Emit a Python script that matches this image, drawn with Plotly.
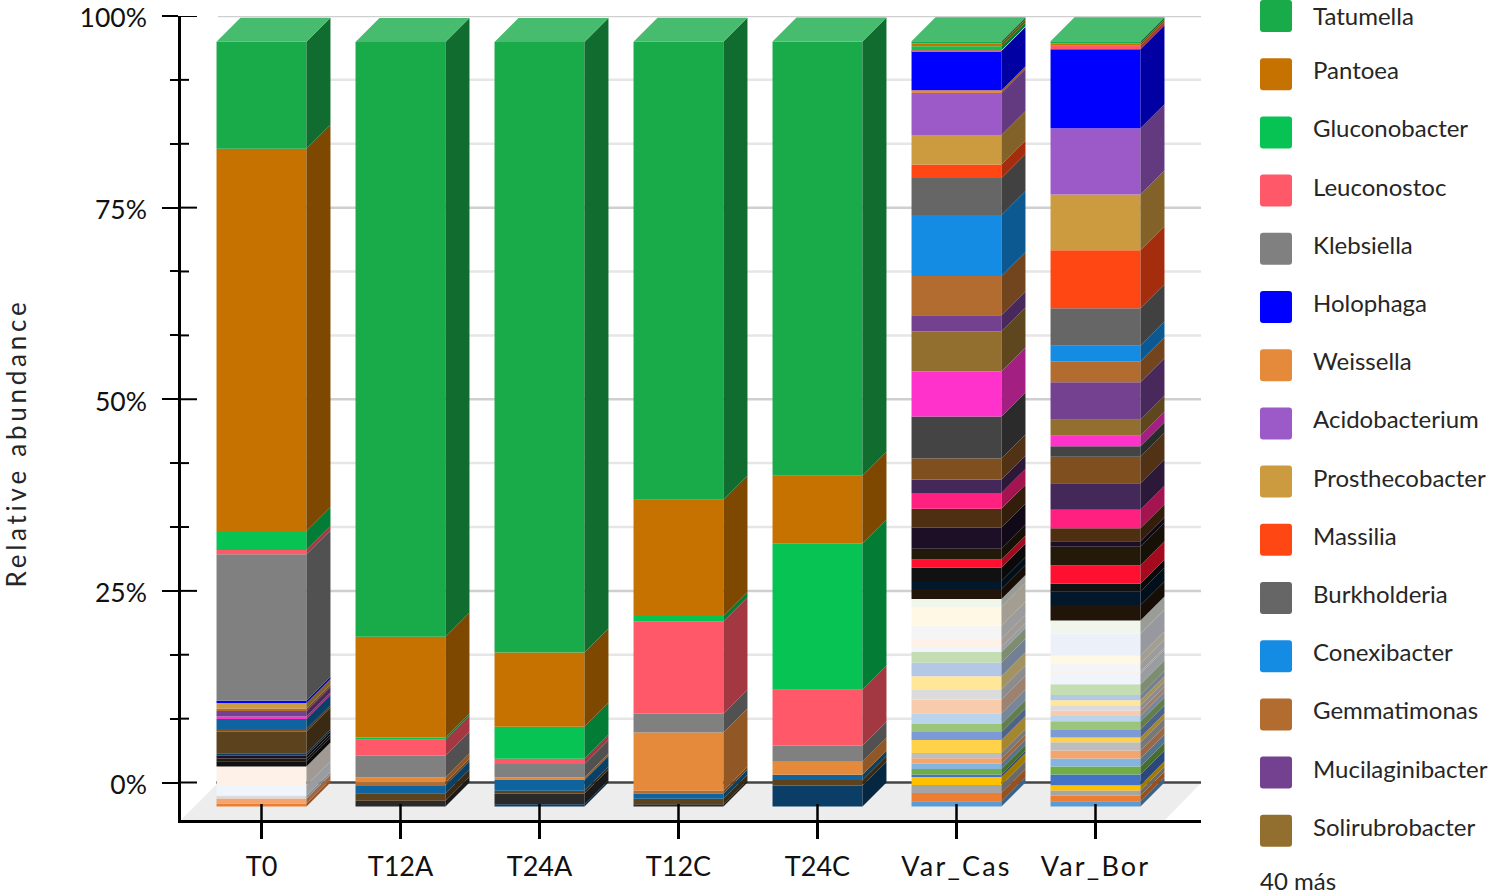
#! /usr/bin/env python3
import plotly.graph_objects as go

samples = ['T0', 'T12A', 'T24A', 'T12C', 'T24C', 'Var_Cas', 'Var_Bor']

# stack order, bottom to top: 40 unnamed genera ("40 mas") then the 15 named ones
series_colors = [
    '#5B9BD5', '#ED7D31', '#A5A5A5', '#FFC000', '#4472C4', '#70AD47',
    '#84B5E0', '#F4A46E', '#BDBDBD', '#FFD24A', '#7C9BD6', '#9BC57A',
    '#BAD4EC', '#F8CBAD', '#DBDBDB', '#FFE699', '#B4C7E7', '#C5DDB3',
    '#F0F4FB', '#FDF1E8', '#F5F5F5', '#FFF8E4', '#ECF0F9', '#F1F6EC',
    '#21150A', '#02182A', '#111111', '#FF1030', '#241A0A', '#1C0F26',
    '#4F2F12', '#FF2080', '#45285A', '#0A3E66', '#2A2A2A', '#5C431E',
    '#7F4F20', '#444444', '#0F649F', '#FF33CC',
    '#936F2F', '#734190', '#B36C2F', '#148CE4', '#666666', '#FF4714',
    '#CC9A3F', '#9C5AC8', '#E48A3A', '#0000FF', '#808080', '#FF5868',
    '#06C353', '#C67200', '#19AA4A',
]

# one value per entry of series_colors
T0 = [0, .39, 0, 0, 0, 0, 0, .65, 0, 0, 0, 0,
      0, 0, .35, 0, 0, 0, 1.40, 2.44, 0, 0, 0, 0,
      0, 0, .70, 0, .35, .35, 0, 0, 0, .35, 0, 2.79,
      .35, 0, 1.31, .35,
      0, .70, .35, 0, 0, 0, .70, 0, 0, .30, 19.15, .57, 2.49, 50.0, 14.0]
T12A = [0, 0, 0, 0, 0, 0, 0, 0, 0, 0, 0, 0,
        0, 0, 0, 0, 0, 0, 0, 0, 0, 0, 0, 0,
        0, 0, 0, 0, 0, 0, 0, 0, 0, 0, .74, 1.0,
        0, 0, 1.05, 0,
        0, 0, .35, 0, 0, 0, 0, 0, .70, 0, 2.79, 2.09, .30, 13.18, 77.8]
T24A = [0, 0, 0, 0, 0, 0, 0, 0, 0, 0, 0, 0,
        0, 0, 0, 0, 0, 0, 0, 0, 0, 0, 0, 0,
        0, 0, 0, 0, 0, 0, 0, 0, 0, .30, 1.40, .35,
        0, 0, 1.40, 0,
        0, 0, 0, 0, 0, 0, 0, 0, .35, 0, 1.75, .70, 4.19, 9.69, 79.87]
T12C = [0, 0, 0, 0, 0, 0, 0, 0, 0, 0, 0, 0,
        0, 0, 0, 0, 0, 0, 0, 0, 0, 0, 0, 0,
        0, 0, 0, 0, 0, 0, 0, 0, 0, 0, .30, .70,
        0, 0, .70, 0,
        0, 0, .35, 0, 0, 0, 0, 0, 7.64, 0, 2.44, 12.09, .70, 15.2, 59.9]
T24C = [0, 0, 0, 0, 0, 0, 0, 0, 0, 0, 0, 0,
        0, 0, 0, 0, 0, 0, 0, 0, 0, 0, 0, 0,
        0, 0, 0, 0, 0, 0, 0, 0, 0, 2.75, 0, .70,
        0, 0, .70, 0,
        0, 0, 0, 0, 0, 0, 0, 0, 1.70, 0, 2.09, 7.33, 19.1, 8.9, 56.8]
Var_Cas = [.70, 1.05, 1.05, 1.05, .35, .70, .70, .70, .70, 1.70, 1.05, 1.05,
           1.40, 1.75, 1.40, 1.70, 1.75, 1.40, .65, 1.05, 1.75, 2.44, 0, 1.05,
           1.31, 1.05, 1.75, 1.05, 1.40, 2.79, 2.44, 2.09, 1.75, 0, 0, 0,
           2.75, 5.50, 0, 5.89,
           5.24, 2.09, 5.14, 7.98, 4.84, 1.79, 3.84, 5.50, .35, 5.14, 0, .10, .52, .35, .30]
Var_Bor = [.70, .74, .65, .70, 1.40, 1.05, 1.05, 1.05, 1.05, .65, 1.05, 1.05,
           .70, .70, .70, .65, .70, 1.40, 1.40, .22, 1.13, 1.05, 2.79, 1.75,
           2.01, 1.75, 1.05, 2.40, 2.45, .69, 1.70, 2.45, 3.44, 0, 0, 0,
           3.49, 1.35, 0, 1.40,
           2.09, 4.88, 2.75, 2.05, 4.88, 7.59, 7.29, 8.68, 0, 10.34, 0, .44, 0, .30, .30]
sample_values = [T0, T12A, T24A, T12C, T24C, Var_Cas, Var_Bor]

legend_names = ['Tatumella', 'Pantoea', 'Gluconobacter', 'Leuconostoc', 'Klebsiella',
                'Holophaga', 'Weissella', 'Acidobacterium', 'Prosthecobacter', 'Massilia',
                'Burkholderia', 'Conexibacter', 'Gemmatimonas', 'Mucilaginibacter',
                'Solirubrobacter']
legend_more = '40 más'

major_ticks = [0, 25, 50, 75, 100]
major_labels = ['0%', '25%', '50%', '75%', '100%']
minor_ticks = [8.33, 16.67, 33.33, 41.67, 58.33, 66.67, 83.33, 91.67]

W, H = 1489, 895
FONT = 'Lato'

# plot area and fake 3D geometry, in page pixels / axis units
left, right, top, bottom = 181, 1201, 16, 820
zero_px, px_per_pct = 782.5, 7.665
first_bar_px, px_per_cat = 261.5, 139.0
bar_width = 0.647
depth_x = 24 / px_per_cat
depth_y = 3.13
front_scale = 0.9974


def page_x(p):
    return p / W


def page_y(p):
    return 1 - p / H


def shade(hex_color, f):
    rgb = [int(hex_color[i:i + 2], 16) for i in (1, 3, 5)]
    return '#%02X%02X%02X' % tuple(int(c * f) for c in rgb)


def tint(hex_color, f):
    rgb = [int(hex_color[i:i + 2], 16) for i in (1, 3, 5)]
    return '#%02X%02X%02X' % tuple(int(c + (255 - c) * f) for c in rgb)


fig = go.Figure()

# stack the samples, side faces first so the fronts sit on top
for s, color in enumerate(series_colors):
    xs, bases, heights, side_x, side_y = [], [], [], [], []
    for i, values in enumerate(sample_values):
        v = values[s]
        if v == 0:
            continue
        y0 = sum(values[:s]) * front_scale - depth_y
        y1 = y0 + v * front_scale
        xs.append(i)
        bases.append(y0)
        heights.append(y1 - y0)
        xr = i + bar_width / 2
        side_x += [xr, xr + depth_x, xr + depth_x, xr, xr, None]
        side_y += [y0, y0 + depth_y, y1 + depth_y, y1, y0, None]
    if not xs:
        continue
    fig.add_trace(go.Scatter(x=side_x, y=side_y, mode='lines', fill='toself',
                             fillcolor=shade(color, 0.64), line=dict(width=0),
                             hoverinfo='skip', showlegend=False))
    fig.add_trace(go.Bar(x=xs, y=heights, base=bases, width=bar_width,
                         marker=dict(color=color, line=dict(width=0)),
                         showlegend=False))

# lid of each column
top_x, top_y = [], []
for i, values in enumerate(sample_values):
    xl = i - bar_width / 2
    xr = i + bar_width / 2
    y1 = sum(values) * front_scale - depth_y
    top_x += [xl, xr, xr + depth_x, xl + depth_x, xl, None]
    top_y += [y1, y1, y1 + depth_y, y1 + depth_y, y1, None]
fig.add_trace(go.Scatter(x=top_x, y=top_y, mode='lines', fill='toself',
                         fillcolor=tint(series_colors[-1], 0.2), line=dict(width=0),
                         hoverinfo='skip', showlegend=False))

shapes = []
# floor
floor = [(left, bottom), (218, 783), (right, 783), (1165, bottom)]
path = 'M ' + ' L '.join('%f,%f' % (page_x(a), page_y(b)) for a, b in floor) + ' Z'
shapes.append(dict(type='path', path=path, xref='paper', yref='paper',
                   fillcolor='#EDEDED', line=dict(width=0), layer='below'))
# back wall grid
for val in minor_ticks:
    shapes.append(dict(type='line', xref='paper', yref='y', x0=page_x(218), x1=page_x(right),
                       y0=val, y1=val, line=dict(color='#E6E6E6', width=2.5), layer='below'))
for val in major_ticks:
    grid_color = '#444444' if val == 0 else '#CFCFCF'
    x0 = 216 if val == 0 else 218
    shapes.append(dict(type='line', xref='paper', yref='y', x0=page_x(x0), x1=page_x(right),
                       y0=val, y1=val, line=dict(color=grid_color, width=2.5), layer='below'))
# ticks cross the axis lines, plotly only draws the outer half
for val in major_ticks:
    shapes.append(dict(type='line', xref='paper', yref='y', x0=page_x(left), x1=page_x(197),
                       y0=val, y1=val, line=dict(color='black', width=2)))
for val in minor_ticks:
    shapes.append(dict(type='line', xref='paper', yref='y', x0=page_x(left), x1=page_x(189),
                       y0=val, y1=val, line=dict(color='black', width=2)))
for i in range(len(samples)):
    shapes.append(dict(type='line', xref='x', yref='paper', x0=i, x1=i,
                       y0=page_y(bottom), y1=page_y(804), line=dict(color='black', width=2.5)))

# legend, squares have rounded corners so it is drawn by hand
annotations = []
size, r = 32, 3
for n, name in enumerate(legend_names):
    color = series_colors[-1 - n]
    y_top = 58.2 * n
    x0, x1 = 1260, 1260 + size
    y0, y1 = y_top, y_top + size
    corners = ('M %f,%f L %f,%f Q %f,%f %f,%f L %f,%f Q %f,%f %f,%f L %f,%f Q %f,%f %f,%f L %f,%f Q %f,%f %f,%f Z' % (
        page_x(x0 + r), page_y(y0), page_x(x1 - r), page_y(y0),
        page_x(x1), page_y(y0), page_x(x1), page_y(y0 + r),
        page_x(x1), page_y(y1 - r),
        page_x(x1), page_y(y1), page_x(x1 - r), page_y(y1),
        page_x(x0 + r), page_y(y1),
        page_x(x0), page_y(y1), page_x(x0), page_y(y1 - r),
        page_x(x0), page_y(y0 + r),
        page_x(x0), page_y(y0), page_x(x0 + r), page_y(y0)))
    shapes.append(dict(type='path', path=corners, xref='paper', yref='paper',
                       fillcolor=color, line=dict(width=0)))
    # first row would poke out of the page
    label_y = max(y_top + 11.5, 15)
    annotations.append(dict(text=name, x=page_x(1311), y=page_y(label_y), xref='paper', yref='paper',
                            xanchor='left', yanchor='middle', showarrow=False,
                            font=dict(family=FONT, size=24, color='#262626')))
annotations.append(dict(text=legend_more, x=page_x(1258), y=page_y(880), xref='paper', yref='paper',
                        xanchor='left', yanchor='middle', showarrow=False,
                        font=dict(family=FONT, size=24, color='#262626')))
annotations.append(dict(text='Relative abundance', x=page_x(16), y=page_y(443), xref='paper', yref='paper',
                        textangle=-90, xanchor='center', yanchor='middle', showarrow=False,
                        font=dict(family=FONT, size=26, color='#262626')))

fig.update_layout(
    width=W, height=H, autosize=False,
    margin=dict(l=0, r=0, t=0, b=0, autoexpand=False),
    paper_bgcolor='white', plot_bgcolor='white',
    barmode='overlay', showlegend=False,
    font=dict(family=FONT, color='#111111'),
    shapes=shapes, annotations=annotations,
    xaxis=dict(domain=[page_x(left), page_x(right)],
               range=[(left - first_bar_px) / px_per_cat, (right - first_bar_px) / px_per_cat],
               tickvals=list(range(len(samples))), ticktext=samples,
               ticks='outside', ticklen=16, tickwidth=2.5, tickcolor='black',
               tickfont=dict(family=FONT, size=27, color='#111111'), ticklabelstandoff=5,
               showline=True, linecolor='black', linewidth=2.5, showgrid=False, zeroline=False,
               automargin=False),
    yaxis=dict(domain=[page_y(bottom), page_y(top)],
               range=[(zero_px - bottom) / px_per_pct, 100],
               tickvals=major_ticks, ticktext=major_labels,
               ticks='outside', ticklen=16, tickwidth=2, tickcolor='black',
               minor=dict(tickvals=minor_ticks, ticks='outside', ticklen=8, tickwidth=2,
                          tickcolor='black', showgrid=False),
               tickfont=dict(family=FONT, size=26.5, color='#111111'),
               ticklabelstandoff=10, ticklabelshift=2, ticklabeloverflow='allow',
               showline=True, linecolor='black', linewidth=2.5, showgrid=False, zeroline=False,
               automargin=False),
)

# plotly has no letter spacing setting, the original has it on these texts
spacing = """
document.body.style.margin='0';
function spaceTexts() {
  document.querySelectorAll('.xtick text').forEach(function (t) {
    if (t.textContent.startsWith('Var_')) { t.style.letterSpacing = '2.2px'; }
  });
  document.querySelectorAll('.annotation-text').forEach(function (t) {
    if (t.textContent.startsWith('Relative')) { t.style.letterSpacing = '3.75px'; }
  });
}
spaceTexts();
setTimeout(spaceTexts, 100);
"""
fig.write_html("out.html", config={'displayModeBar': False}, post_script=spacing)
